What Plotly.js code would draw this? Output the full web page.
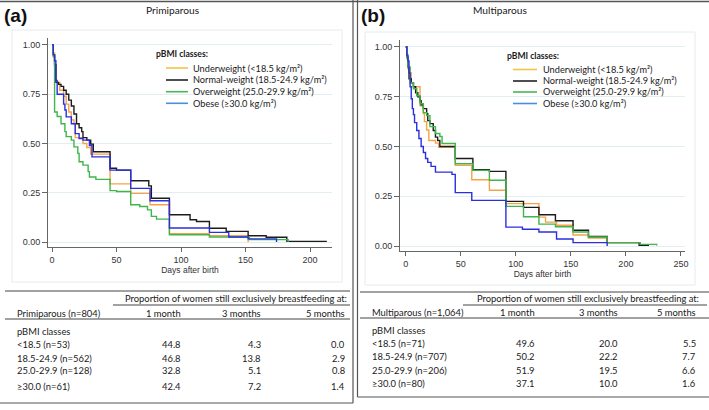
<!DOCTYPE html>
<html><head><meta charset="utf-8">
<script src="https://cdn.plot.ly/plotly-3.0.1.min.js"></script>
<style>html,body{margin:0;padding:0;background:#fff}#chart{width:709px;height:410px}</style>
</head><body><div id="chart"></div>
<script>
// ---------- categories ----------
const groupNames = ['Underweight (<18.5 kg/m²)', 'Normal-weight (18.5-24.9 kg/m²)', 'Overweight (25.0-29.9 kg/m²)', 'Obese (≥30.0 kg/m²)'];
const panelTitles = ['Primiparous', 'Multiparous'];
const panelLetters = ['(a)', '(b)'];
const xTicksA = [0, 50, 100, 150, 200];
const xTicksB = [0, 50, 100, 150, 200, 250];
const yTicks = [0, 0.25, 0.5, 0.75, 1];

// ---------- Primiparous Kaplan-Meier steps (days, proportion) ----------
const primUnderDays = [0, 1, 2, 3, 6, 9, 11, 13, 15, 17, 18, 24, 27, 30, 45, 61, 76, 91, 122, 152];
const primUnderSurv = [1, 0.96, 0.90, 0.81, 0.77, 0.74, 0.70, 0.66, 0.62, 0.60, 0.53, 0.50, 0.48, 0.446, 0.295, 0.247, 0.189, 0.042, 0.032, 0.0];
const primNormalDays = [0, 1, 2, 3, 5, 7, 9, 11, 13, 15, 17, 19, 21, 23, 24, 27, 30, 32, 45, 50, 61, 75, 77, 91, 107, 112, 122, 135, 152, 166, 182, 213];
const primNormalSurv = [1, 0.95, 0.90, 0.81, 0.80, 0.79, 0.77, 0.75, 0.72, 0.69, 0.65, 0.60, 0.58, 0.56, 0.53, 0.517, 0.497, 0.458, 0.374, 0.365, 0.311, 0.285, 0.222, 0.138, 0.113, 0.104, 0.07, 0.054, 0.032, 0.024, 0.003, 0.003];
const primOverDays = [0, 1, 2, 4, 7, 10, 11, 15, 17, 20, 21, 24, 28, 29, 34, 45, 50, 61, 68, 74, 77, 81, 91, 122, 153, 183];
const primOverSurv = [1, 0.94, 0.66, 0.637, 0.60, 0.56, 0.535, 0.517, 0.483, 0.45, 0.407, 0.39, 0.357, 0.33, 0.318, 0.261, 0.256, 0.189, 0.18, 0.163, 0.13, 0.116, 0.037, 0.025, 0.012, 0];
const primObeseDays = [0, 1, 2, 3, 4, 9, 10, 11, 15, 18, 21, 24, 29, 31, 45, 61, 76, 91, 122, 137, 152, 174];
const primObeseSurv = [1, 0.95, 0.92, 0.82, 0.75, 0.70, 0.67, 0.635, 0.60, 0.55, 0.525, 0.517, 0.49, 0.432, 0.365, 0.272, 0.209, 0.071, 0.049, 0.025, 0.016, 0];

// ---------- Multiparous Kaplan-Meier steps ----------
const multiUnderDays = [0, 1, 2, 4, 5, 7, 13, 16, 17, 19, 21, 27, 30, 45, 60, 76, 91, 121, 127, 137, 152, 166, 183, 213];
const multiUnderSurv = [1, 0.94, 0.89, 0.87, 0.82, 0.80, 0.705, 0.665, 0.625, 0.583, 0.53, 0.517, 0.496, 0.405, 0.333, 0.28, 0.213, 0.145, 0.12, 0.104, 0.055, 0.04, 0.017, 0];
const multiNormalDays = [0, 1, 2, 3, 5, 7, 9, 11, 13, 14, 16, 19, 20, 22, 25, 27, 29, 31, 45, 61, 76, 91, 107, 121, 136, 152, 166, 183, 212, 221];
const multiNormalSurv = [1, 0.95, 0.90, 0.84, 0.82, 0.80, 0.77, 0.75, 0.73, 0.71, 0.69, 0.665, 0.63, 0.615, 0.58, 0.547, 0.53, 0.50, 0.44, 0.383, 0.375, 0.224, 0.194, 0.157, 0.127, 0.079, 0.048, 0.017, 0.003, 0.003];
const multiOverDays = [0, 1, 2, 4, 7, 10, 13, 16, 19, 22, 27, 31, 33, 45, 61, 76, 91, 107, 121, 136, 152, 166, 183, 213, 228];
const multiOverSurv = [1, 0.95, 0.90, 0.82, 0.79, 0.755, 0.715, 0.67, 0.655, 0.60, 0.565, 0.55, 0.515, 0.413, 0.38, 0.33, 0.199, 0.147, 0.11, 0.097, 0.07, 0.045, 0.017, 0.008, 0.003];
const multiObeseDays = [0, 1, 2, 3, 4, 5, 6, 7, 8, 10, 12, 14, 16, 18, 20, 23, 27, 42, 45, 60, 91, 106, 121, 137, 152, 183];
const multiObeseSurv = [1, 0.96, 0.93, 0.87, 0.80, 0.74, 0.69, 0.66, 0.62, 0.58, 0.54, 0.50, 0.47, 0.44, 0.42, 0.40, 0.371, 0.36, 0.268, 0.229, 0.095, 0.084, 0.07, 0.035, 0.017, 0];

// ---------- tables ----------
const tableColumns = ['1 month', '3 months', '5 months'];
const tableSpanner = 'Proportion of women still exclusively breastfeeding at:';
const tableSubhead = 'pBMI classes';
const primHeader = 'Primiparous (n=804)';
const primRowLabels = ['&lt;18.5 (n=53)', '18.5-24.9 (n=562)', '25.0-29.9 (n=128)', '≥30.0 (n=61)'];
const primOneMonth = [44.8, 46.8, 32.8, 42.4];
const primThreeMonths = [4.3, 13.8, 5.1, 7.2];
const primFiveMonths = [0.0, 2.9, 0.8, 1.4];
const multiHeader = 'Multiparous (n=1,064)';
const multiRowLabels = ['&lt;18.5 (n=71)', '18.5-24.9 (n=707)', '25.0-29.9 (n=206)', '≥30.0 (n=80)'];
const multiOneMonth = [49.6, 50.2, 51.9, 37.1];
const multiThreeMonths = [20.0, 22.2, 19.5, 10.0];
const multiFiveMonths = [5.5, 7.7, 6.6, 1.6];

// ---------- styles ----------
const W = 709, H = 410;
const curveColors = ['#f5a24a', '#1c1c1c', '#3fb54c', '#2a2fe0'];
const legendColors = ['#f6c444', '#222222', '#4cb556', '#4a8fdc'];
const txtFont = 'Lato, "Open Sans", sans-serif';
const axFont = '"Liberation Sans", Arial, sans-serif';
const txtColor = '#1a1a1a';
const tableSize = 9.4;
const legendSize = 9.2;
const px = x => x / W;
const py = y => 1 - y / H;

const primSeries = [[primUnderDays, primUnderSurv], [primNormalDays, primNormalSurv], [primOverDays, primOverSurv], [primObeseDays, primObeseSurv]];
const multiSeries = [[multiUnderDays, multiUnderSurv], [multiNormalDays, multiNormalSurv], [multiOverDays, multiOverSurv], [multiObeseDays, multiObeseSurv]];

const traces = [];
primSeries.forEach((s, i) => traces.push({x: s[0], y: s[1], type: 'scatter', mode: 'lines', line: {shape: 'hv', color: curveColors[i], width: 1.4}, xaxis: 'x', yaxis: 'y', name: groupNames[i], showlegend: false}));
multiSeries.forEach((s, i) => traces.push({x: s[0], y: s[1], type: 'scatter', mode: 'lines', line: {shape: 'hv', color: curveColors[i], width: 1.4}, xaxis: 'x2', yaxis: 'y2', name: groupNames[i], showlegend: false}));

function xAxis(domain, range, ticks) {
  return {domain, range, tickvals: ticks, ticks: 'outside', ticklen: 4, tickcolor: '#666', showline: true, linecolor: '#666', linewidth: 1,
    showgrid: false, zeroline: false, automargin: false, fixedrange: true,
    tickfont: {family: axFont, size: 9, color: '#333'},
    title: {text: 'Days after birth', font: {family: axFont, size: 8.5, color: '#333'}, standoff: 0}};
}
function yAxis(domain, range, anchor) {
  return {domain, range, anchor, tickvals: yTicks, tickformat: '.2f', ticks: 'outside', ticklen: 5, tickcolor: '#666', showline: true, linecolor: '#666', linewidth: 1,
    showgrid: true, gridcolor: '#e2eef2', gridwidth: 1, zeroline: false, automargin: false, fixedrange: true,
    tickfont: {family: axFont, size: 9, color: '#333'}};
}

const annotations = [];
const shapes = [];
function ann(text, x, y, xanchor, size, opts) {
  annotations.push(Object.assign({text, x: px(x), y: py(y), xref: 'paper', yref: 'paper', xanchor, yanchor: 'middle', showarrow: false,
    font: {family: txtFont, size, color: txtColor}}, opts || {}));
}
function hline(x0, x1, y, color, width) {
  shapes.push({type: 'line', xref: 'paper', yref: 'paper', x0: px(x0), x1: px(x1), y0: py(y), y1: py(y), line: {color: color || '#333', width: width || 1}});
}
function vline(x, y0, y1, color, width) {
  shapes.push({type: 'line', xref: 'paper', yref: 'paper', x0: px(x), x1: px(x), y0: py(y0), y1: py(y1), line: {color: color || '#333', width: width || 1}});
}

// frame
hline(0, 709, 1.5, '#555', 1.5);
vline(353, 0, 403, '#555', 1.2);
vline(357.5, 0, 397, '#555', 1.2);
hline(0, 353, 403, '#555', 1.2);
hline(357.5, 709, 397, '#555', 1.2);
// faint chart boxes
shapes.push({type: 'rect', xref: 'paper', yref: 'paper', x0: px(12), x1: px(342), y0: py(282), y1: py(30), line: {color: '#e6ecef', width: 1}});
shapes.push({type: 'rect', xref: 'paper', yref: 'paper', x0: px(365), x1: px(695), y0: py(285), y1: py(32), line: {color: '#e6ecef', width: 1}});

// panel letters and titles
ann('<b>' + panelLetters[0] + '</b>', 2, 15, 'left', 19, {font: {family: axFont, size: 19, color: '#111'}});
ann('<b>' + panelLetters[1] + '</b>', 359, 15, 'left', 19, {font: {family: axFont, size: 19, color: '#111'}});
ann(panelTitles[0], 173, 10, 'center', 10.2);
ann(panelTitles[1], 500, 10, 'center', 10.2);

// legends
function legend(tx, ty, lx0, lx1, textX, rows) {
  ann('<b>pBMI classes:</b>', tx, ty, 'left', 8.6);
  groupNames.forEach((g, i) => {
    hline(lx0, lx1, rows[i], legendColors[i], 1.6);
    ann(g.replace('<', '&lt;'), textX, rows[i], 'left', legendSize);
  });
}
legend(154, 54, 166, 188, 191, [68, 80, 91.7, 103.3]);
legend(505, 56, 513, 537, 541, [69.5, 81, 92, 103.5]);

// tables
function table(xl, xr, spanX0, spanRules, header, labels, c1, c2, c3, colRights, ys) {
  hline(xl, xr, ys.top, '#444', 1);
  ann(tableSpanner, (colRights[2] + spanX0) / 2 + 2, ys.span, 'center', tableSize);
  hline(spanRules[0], spanRules[1], ys.spanRule, '#444', 1);
  ann(header, xl + 10, ys.head, 'left', tableSize);
  tableColumns.forEach((c, j) => ann(c, colRights[j], ys.head, 'right', tableSize));
  hline(xl, xr, ys.headRule, '#444', 1);
  ann(tableSubhead, xl + 10, ys.sub, 'left', tableSize);
  labels.forEach((l, i) => {
    ann(l, xl + 10, ys.rows[i], 'left', tableSize);
    [c1, c2, c3].forEach((col, j) => ann(col[i].toFixed(1), colRights[j], ys.rows[i], 'right', tableSize));
  });
}
table(5, 350, 120, [113, 350], primHeader, primRowLabels, primOneMonth, primThreeMonths, primFiveMonths, [183, 263, 347],
  {top: 291, span: 298.5, spanRule: 305, head: 313, headRule: 319, sub: 331, rows: [344.5, 358, 370.5, 386.5]});
table(360, 709, 474, [463, 707], multiHeader, multiRowLabels, multiOneMonth, multiThreeMonths, multiFiveMonths, [537, 620, 698],
  {top: 292, span: 298.5, spanRule: 305, head: 312, headRule: 318, sub: 330, rows: [343.5, 356.5, 370, 383.5]});

const layout = {
  width: W, height: H, margin: {l: 0, r: 0, t: 0, b: 0}, paper_bgcolor: '#fff', plot_bgcolor: '#fff', showlegend: false,
  xaxis: xAxis([px(48), px(332)], [-3.1, 217], xTicksA),
  yaxis: yAxis([py(247), py(38)], [-0.0254, 1.0355], 'x'),
  xaxis2: Object.assign(xAxis([px(400), px(685)], [-5.2, 253.7], xTicksB), {anchor: 'y2'}),
  yaxis2: yAxis([py(251), py(40)], [-0.0251, 1.035], 'x2'),
  annotations, shapes
};
layout.xaxis.anchor = 'y';
Plotly.newPlot('chart', traces, layout, {displayModeBar: false, staticPlot: true});
</script></body></html>
